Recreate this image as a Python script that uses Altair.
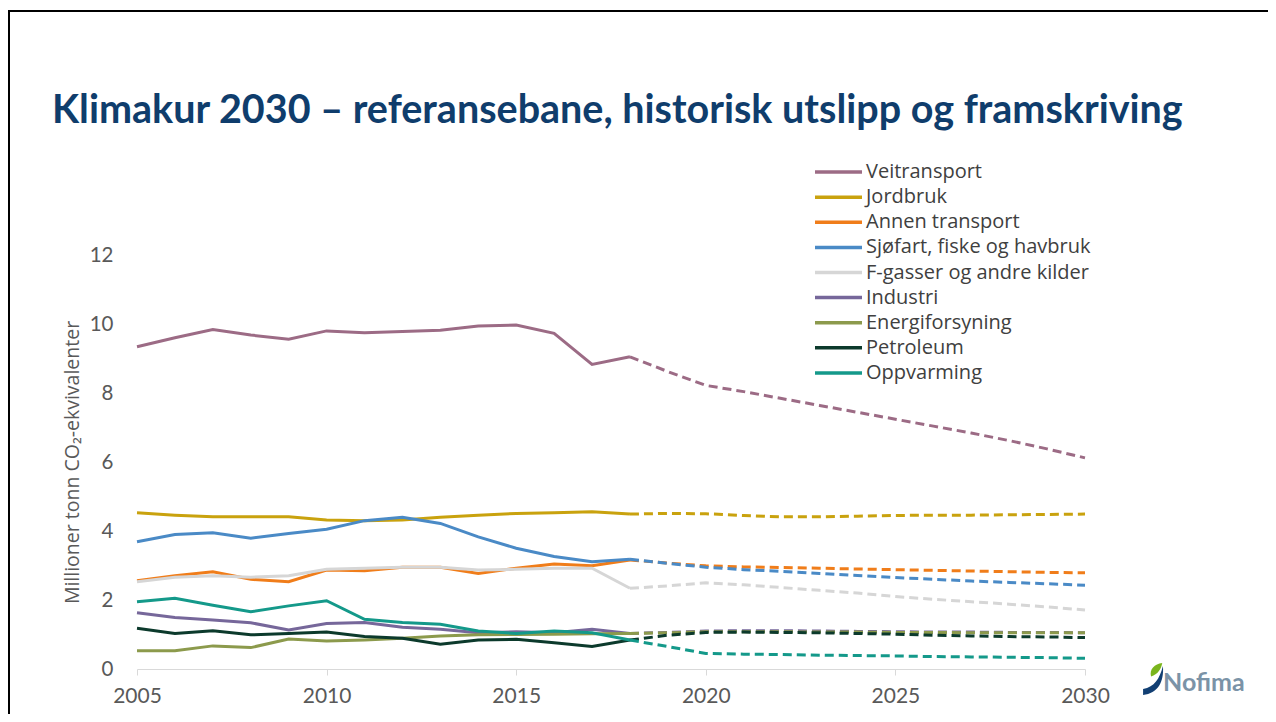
import altair as alt
import pandas as pd

# ---------------- data ----------------
series = ["Veitransport", "Jordbruk", "Annen transport", "Sjøfart, fiske og havbruk",
          "F-gasser og andre kilder", "Industri", "Energiforsyning", "Petroleum", "Oppvarming"]
colors = ["#9c6b85", "#c9a20e", "#f07d1a", "#4a8ac6", "#d6d6d6",
          "#76679a", "#8c9a4c", "#0c3a2c", "#14998a"]

hist_years = list(range(2005, 2019))
proj_years = list(range(2018, 2031))

veitransport_hist = [9.34, 9.60, 9.84, 9.68, 9.56, 9.80, 9.75, 9.78, 9.82, 9.94, 9.97, 9.73, 8.83, 9.05]
veitransport_proj = [9.05, 8.62, 8.22, 8.04, 7.84, 7.64, 7.44, 7.24, 7.04, 6.84, 6.62, 6.38, 6.12]
jordbruk_hist = [4.53, 4.46, 4.41, 4.41, 4.41, 4.32, 4.30, 4.32, 4.40, 4.46, 4.51, 4.53, 4.56, 4.49]
jordbruk_proj = [4.49, 4.51, 4.50, 4.45, 4.41, 4.41, 4.43, 4.45, 4.46, 4.46, 4.47, 4.48, 4.49]
annen_hist = [2.56, 2.70, 2.82, 2.60, 2.53, 2.87, 2.85, 2.95, 2.95, 2.77, 2.92, 3.04, 2.99, 3.16]
annen_proj = [3.16, 3.07, 2.99, 2.96, 2.94, 2.92, 2.90, 2.88, 2.86, 2.84, 2.82, 2.80, 2.79]
sjofart_hist = [3.69, 3.90, 3.95, 3.79, 3.93, 4.05, 4.30, 4.40, 4.22, 3.83, 3.50, 3.26, 3.11, 3.18]
sjofart_proj = [3.18, 3.06, 2.95, 2.88, 2.83, 2.77, 2.71, 2.65, 2.60, 2.55, 2.51, 2.47, 2.43]
fgass_hist = [2.53, 2.66, 2.70, 2.66, 2.70, 2.89, 2.92, 2.95, 2.95, 2.87, 2.89, 2.92, 2.92, 2.34]
fgass_proj = [2.34, 2.41, 2.50, 2.44, 2.36, 2.28, 2.20, 2.10, 2.02, 1.95, 1.88, 1.80, 1.71]
industri_hist = [1.63, 1.49, 1.42, 1.34, 1.13, 1.32, 1.35, 1.21, 1.15, 1.05, 1.08, 1.05, 1.15, 1.03]
industri_proj = [1.03, 1.06, 1.10, 1.11, 1.11, 1.10, 1.09, 1.08, 1.07, 1.07, 1.06, 1.06, 1.05]
energi_hist = [0.53, 0.53, 0.67, 0.62, 0.87, 0.81, 0.84, 0.89, 0.96, 0.99, 1.00, 1.01, 1.02, 1.03]
energi_proj = [1.03, 1.05, 1.08, 1.08, 1.08, 1.07, 1.07, 1.06, 1.06, 1.05, 1.05, 1.05, 1.05]
petroleum_hist = [1.18, 1.03, 1.11, 0.99, 1.03, 1.07, 0.94, 0.89, 0.72, 0.84, 0.86, 0.76, 0.65, 0.84]
petroleum_proj = [0.84, 0.98, 1.06, 1.07, 1.06, 1.05, 1.03, 1.01, 0.98, 0.96, 0.94, 0.93, 0.91]
oppvarming_hist = [1.95, 2.05, 1.85, 1.66, 1.83, 1.98, 1.44, 1.35, 1.30, 1.10, 1.03, 1.10, 1.05, 0.84]
oppvarming_proj = [0.84, 0.65, 0.45, 0.43, 0.42, 0.40, 0.39, 0.38, 0.36, 0.35, 0.34, 0.33, 0.31]

x_ticks = [2005, 2010, 2015, 2020, 2025, 2030]
y_ticks = [0, 2, 4, 6, 8, 10, 12]

title_text = "Klimakur 2030 – referansebane, historisk utslipp og framskriving"
y_title = "Millioner tonn CO₂-ekvivalenter"
logo_text = "Nofima"

hist_values = [veitransport_hist, jordbruk_hist, annen_hist, sjofart_hist, fgass_hist,
               industri_hist, energi_hist, petroleum_hist, oppvarming_hist]
proj_values = [veitransport_proj, jordbruk_proj, annen_proj, sjofart_proj, fgass_proj,
               industri_proj, energi_proj, petroleum_proj, oppvarming_proj]

rows_h, rows_p = [], []
for i, s in enumerate(series):
    for y, v in zip(hist_years, hist_values[i]):
        rows_h.append({"series": s, "year": y, "value": v, "idx": i})
    for y, v in zip(proj_years, proj_values[i]):
        rows_p.append({"series": s, "year": y, "value": v, "idx": i})
df_hist = pd.DataFrame(rows_h)
df_proj = pd.DataFrame(rows_p)
df_leg = pd.DataFrame({"series": series})

FONT = "Lato"
TFONT = "Open Sans"
GREY = "#595959"

color_enc = alt.Color("series:N", scale=alt.Scale(domain=series, range=colors), legend=None)
x_enc = alt.X("year:Q", scale=alt.Scale(domain=[2005, 2030], nice=False, zero=False),
              axis=alt.Axis(values=x_ticks, format="d", grid=False, title=None,
                            domainColor="#d9d9d9", tickColor="#d9d9d9", tickSize=6,
                            labelFlush=False,
                            labelFontSize=21, labelColor=GREY, labelFont=FONT, labelPadding=10))
y_enc = alt.Y("value:Q", scale=alt.Scale(domain=[0, 12], nice=False),
              axis=alt.Axis(values=y_ticks, grid=False, domain=False, ticks=False,
                            labelFontSize=20.5, labelColor=GREY, labelFont=FONT, labelPadding=24,
                            title=y_title, titleFontSize=19.5, titleFont=TFONT,
                            titleFontWeight="normal", titleColor=GREY,
                            titleX=-65, titleY=207, titleAngle=270,
                            titleAlign="center", titleBaseline="middle"))

hist = alt.Chart(df_hist).mark_line(strokeWidth=3).encode(
    x=x_enc, y=y_enc, color=color_enc, order="year:Q")
proj = alt.Chart(df_proj).mark_line(strokeWidth=3, strokeDash=[9, 5]).encode(
    x="year:Q", y="value:Q", color=color_enc, order="year:Q")

lines = alt.layer(hist, proj)

leg_y = alt.Y("series:N", sort=series, axis=None,
              scale=alt.Scale(range=[-95.5, 130.5]))
leg_rules = alt.Chart(df_leg).mark_rule(strokeWidth=3.5).encode(
    x=alt.value(678), x2=alt.value(725), y=leg_y, color=color_enc)
leg_text = alt.Chart(df_leg).mark_text(align="left", baseline="middle", fontSize=20,
                                       font=TFONT, color="#404040").encode(
    x=alt.value(729), y=leg_y, text="series:N")
legend = alt.layer(leg_rules, leg_text)

title = alt.Chart(pd.DataFrame({"t": [title_text]})).mark_text(
    align="left", baseline="alphabetic", fontSize=39.5, font=FONT, fontWeight="bold",
    color="#0f3d6c").encode(x=alt.value(-85), y=alt.value(-132), text="t:N")

border_top = alt.Chart(pd.DataFrame({"a": [0]})).mark_rule(color="black", strokeWidth=2).encode(
    x=alt.value(-129), x2=alt.value(1131), y=alt.value(-244))
border_left = alt.Chart(pd.DataFrame({"a": [0]})).mark_rule(color="black", strokeWidth=2).encode(
    x=alt.value(-128), y=alt.value(-245), y2=alt.value(460))

leaf_blue = alt.Chart(pd.DataFrame({"a": [0]})).mark_point(
    shape="M-0.62,1.0 C0.3,0.9 0.7,0.2 0.62,-0.81 C0.4,0.0 0.1,0.5 -0.62,0.62 Z",
    filled=True, size=1024, color="#123f73", opacity=1).encode(
    x=alt.value(1016), y=alt.value(424))
leaf_green = alt.Chart(pd.DataFrame({"a": [0]})).mark_point(
    shape="M-0.12,-0.15 C-0.25,-0.6 0.1,-0.95 0.58,-1.0 C0.5,-0.6 0.3,-0.3 -0.12,-0.15 Z",
    filled=True, size=1024, color="#7ab51d", opacity=1).encode(
    x=alt.value(1016), y=alt.value(424))
logo = alt.Chart(pd.DataFrame({"t": [logo_text]})).mark_text(
    align="left", baseline="middle", fontSize=25, font=FONT, fontWeight="bold",
    color="#7b93a7").encode(x=alt.value(1026), y=alt.value(428), text="t:N")

deco = alt.layer(title, border_top, border_left, leaf_blue, leaf_green, logo)

chart = alt.layer(lines, legend, deco).resolve_scale(y="independent").properties(
    width=948, height=414,
    padding={"left": 129, "top": 247, "right": 183, "bottom": 45},
    autosize=alt.AutoSizeParams(type="none"),
    background="white",
).configure_view(stroke=None)

chart.save("out.html", embed_options={"renderer": "svg", "actions": False})
